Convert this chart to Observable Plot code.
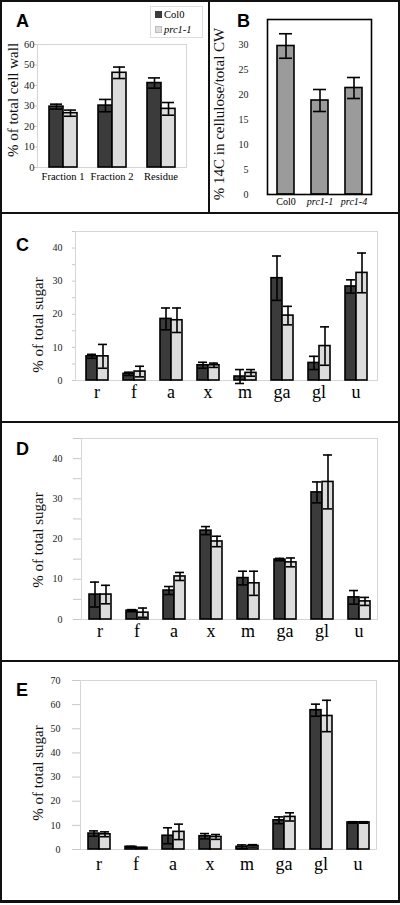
<!DOCTYPE html>
<html>
<head>
<meta charset="utf-8">
<script src="https://cdn.jsdelivr.net/npm/d3@7"></script>
<script src="https://cdn.jsdelivr.net/npm/@observablehq/plot@0.6"></script>
<style>
  html, body { margin: 0; padding: 0; background: #fff; }
  #fig { position: relative; width: 400px; height: 905px; overflow: hidden; background: #fff; font-family: "Liberation Serif", "Times New Roman", serif; }
  #fig svg text { font-family: "Liberation Serif", "Times New Roman", serif; }
  .layer { position: absolute; }
  .layer svg { display: block; }
  .line { position: absolute; background: #111; }
  .letter { position: absolute; font-family: "Liberation Sans", Arial, sans-serif; font-weight: bold; font-size: 18px; line-height: 18px; color: #000; }
  .ytitle { position: absolute; white-space: nowrap; font-size: 15px; line-height: 15px; color: #111; transform: translate(-50%, -50%) rotate(-90deg); }
  .legend { position: absolute; left: 150px; top: 6px; width: 51px; height: 30px; border: 1px solid #ddd; background: #fff; font-size: 10.5px; line-height: 15px; }
  .legend div { position: relative; padding-left: 13px; white-space: nowrap; }
  .legend span.sw { position: absolute; left: 4px; top: 4px; width: 7px; height: 7px; }
</style>
</head>
<body>
<div id="fig"></div>
<script>
// ---------- data ----------
const genotypes = ["Col0", "prc1-1"];

// Panel A
const fractions = ["Fraction 1", "Fraction 2", "Residue"];
const aCol0 = [29.7, 30.2, 41.2];
const aCol0Err = [1.2, 3.0, 2.5];
const aPrc = [26.5, 46.2, 28.6];
const aPrcErr = [1.5, 2.8, 3.1];
const aTicks = [0, 10, 20, 30, 40, 50, 60];

// Panel B
const bLines = ["Col0", "prc1-1", "prc1-4"];
const bValues = [29.7, 18.8, 21.3];
const bErr = [2.45, 2.2, 2.1];
const bTicks = [0, 5, 10, 15, 20, 25, 30];

// Panels C, D, E
const sugars = ["r", "f", "a", "x", "m", "ga", "gl", "u"];

const cCol0 = [7.3, 2.0, 18.6, 4.6, 1.2, 30.9, 5.3, 28.4];
const cCol0Err = [0.6, 0.5, 3.3, 0.9, 2.1, 6.7, 2.0, 2.0];
const cPrc = [7.3, 2.7, 18.2, 4.6, 2.3, 19.6, 10.4, 32.5];
const cPrcErr = [3.6, 1.6, 3.7, 0.65, 1.0, 2.8, 5.8, 6.0];

const dCol0 = [6.2, 2.2, 7.2, 22.1, 10.3, 14.9, 31.6, 5.5];
const dCol0Err = [3.1, 0.25, 1.0, 1.0, 1.7, 0.3, 2.6, 1.7];
const dPrc = [6.2, 1.7, 10.7, 19.4, 9.0, 14.2, 34.2, 4.5];
const dPrcErr = [2.3, 1.15, 1.0, 1.3, 3.0, 1.1, 6.7, 1.0];

const eCol0 = [6.6, 1.1, 5.7, 5.5, 1.1, 12.1, 57.7, 11.2];
const eCol0Err = [1.1, 0.2, 3.3, 1.1, 0.8, 1.4, 2.5, 0.3];
const ePrc = [6.3, 0.7, 7.3, 5.2, 1.5, 13.5, 55.3, 11.2];
const ePrcErr = [1.0, 0.1, 3.2, 1.0, 0.5, 1.7, 6.5, 0.3];

const cdMajor = [0, 10, 20, 30, 40];
const cdMinor = [0, 5, 10, 15, 20, 25, 30, 35, 40, 45];
const eMajor = [0, 10, 20, 30, 40, 50, 60, 70];

const colors = ["#3b3b3b", "#dcdcdc"];
const bColor = "#9b9b9b";

// ---------- helpers ----------
const fig = document.getElementById("fig");
function addLayer(node, left, top) {
  const d = document.createElement("div");
  d.className = "layer";
  d.style.left = left + "px";
  d.style.top = top + "px";
  d.appendChild(node);
  fig.appendChild(d);
}
function addDiv(cls, css, html) {
  const d = document.createElement("div");
  d.className = cls;
  Object.assign(d.style, css);
  if (html != null) d.innerHTML = html;
  fig.appendChild(d);
  return d;
}
function rowsOf(cats, col, colErr, prc, prcErr) {
  const rows = [];
  cats.forEach((c, i) => {
    rows.push({cat: c, g: genotypes[0], v: col[i], e: colErr[i]});
    rows.push({cat: c, g: genotypes[1], v: prc[i], e: prcErr[i]});
  });
  return rows;
}
const baseStyle = {fontFamily: "Liberation Serif, serif", background: "transparent", overflow: "visible", color: "#222"};
const SW = 1.6;

// grouped bar panel = base layer (frame + y axis) + faceted bar layer
function groupedPanel(o) {
  const dims = {width: o.width, height: o.height, marginLeft: o.ml, marginRight: o.mr, marginTop: o.mt, marginBottom: o.mb};
  const base = Plot.plot({
    ...dims,
    style: baseStyle,
    x: {axis: null},
    y: {domain: o.ydomain, axis: null},
    marks: [
      Plot.frame({stroke: "#d6d6d6", strokeWidth: 1}),
      Plot.axisY({ticks: o.minor, tickSize: o.tickSize, stroke: "#c8c8c8", fill: "none", label: null}),
      Plot.axisY({ticks: o.major, tickSize: 0, tickPadding: o.tickPadding, fill: "#222", fontSize: o.yFont, label: null, tickFormat: d => d})
    ]
  });
  const rows = rowsOf(o.cats, o.col, o.colErr, o.prc, o.prcErr);
  const bars = Plot.plot({
    ...dims,
    style: baseStyle,
    fx: {domain: o.cats, paddingInner: o.pi, paddingOuter: o.pi / 2, label: null},
    x: {domain: genotypes, padding: 0, axis: null},
    y: {domain: o.ydomain, axis: null},
    color: {domain: genotypes, range: colors},
    marks: [
      Plot.axisFx({anchor: "bottom", tickSize: 0, tickPadding: o.xPad, fontSize: o.xFont, fill: "#000", label: null}),
      Plot.barY(rows, {fx: "cat", x: "g", y: "v", fill: "g", stroke: "#000", strokeWidth: SW}),
      Plot.ruleX(rows, {fx: "cat", x: "g", y1: d => d.v - d.e, y2: d => d.v + d.e, stroke: "#000", strokeWidth: SW}),
      Plot.tickY(rows, {fx: "cat", x: "g", y: d => d.v + d.e, stroke: "#000", strokeWidth: SW, insetLeft: 1, insetRight: 1}),
      Plot.tickY(rows, {fx: "cat", x: "g", y: d => d.v - d.e, stroke: "#000", strokeWidth: SW, insetLeft: 1, insetRight: 1})
    ]
  });
  addLayer(base, o.left, o.top);
  addLayer(bars, o.left, o.top);
}

// ---------- panel A ----------
groupedPanel({
  left: 0, top: 0, width: 208, height: 212, ml: 37, mr: 22, mt: 44, mb: 45,
  ydomain: [0, 60], major: aTicks, minor: aTicks, tickSize: 3, tickPadding: 3, yFont: 10.5,
  cats: fractions, col: aCol0, colErr: aCol0Err, prc: aPrc, prcErr: aPrcErr,
  pi: 0.4, xPad: 5, xFont: 10.5
});

// ---------- panel B ----------
const bRows = bLines.map((l, i) => ({line: l, v: bValues[i], e: bErr[i]}));
const bPlot = Plot.plot({
  width: 191, height: 212, marginLeft: 58, marginRight: 29, marginTop: 19, marginBottom: 18,
  style: baseStyle,
  x: {domain: bLines, paddingInner: 0.5, paddingOuter: 0.25, label: null},
  y: {domain: [0, 35], axis: null},
  marks: [
    Plot.axisY({ticks: bTicks, tickSize: 0, tickPadding: 19, fill: "#222", fontSize: 10, label: null}),
    Plot.axisX({tickSize: 0, tickPadding: 3, fill: "#000", fontSize: 10, label: null}),
    Plot.barY(bRows, {x: "line", y: "v", fill: bColor, stroke: "#000", strokeWidth: SW}),
    Plot.ruleX(bRows, {x: "line", y1: d => d.v - d.e, y2: d => d.v + d.e, stroke: "#000", strokeWidth: SW}),
    Plot.tickY(bRows, {x: "line", y: d => d.v + d.e, stroke: "#000", strokeWidth: SW, insetLeft: 2, insetRight: 2}),
    Plot.tickY(bRows, {x: "line", y: d => d.v - d.e, stroke: "#000", strokeWidth: SW, insetLeft: 2, insetRight: 2}),
    Plot.frame({stroke: "#000", strokeWidth: 1.6})
  ]
});
d3.select(bPlot).selectAll("text").filter(function () { return /^prc/.test(this.textContent); }).style("font-style", "italic");
addLayer(bPlot, 209, 0);

// ---------- panels C, D, E ----------
groupedPanel({
  left: 0, top: 213, width: 400, height: 209, ml: 75, mr: 23, mt: 18, mb: 42,
  ydomain: [0, 45], major: cdMajor, minor: cdMinor, tickSize: 3, tickPadding: 13, yFont: 10,
  cats: sugars, col: cCol0, colErr: cCol0Err, prc: cPrc, prcErr: cPrcErr,
  pi: 0.38, xPad: 5, xFont: 18
});
groupedPanel({
  left: 0, top: 422, width: 400, height: 239, ml: 81, mr: 23, mt: 16, mb: 42,
  ydomain: [0, 45], major: cdMajor, minor: cdMinor, tickSize: 8, tickPadding: 19, yFont: 10,
  cats: sugars, col: dCol0, colErr: dCol0Err, prc: dPrc, prcErr: dPrcErr,
  pi: 0.38, xPad: 5, xFont: 18
});
groupedPanel({
  left: 0, top: 661, width: 400, height: 241, ml: 80, mr: 24, mt: 19, mb: 53,
  ydomain: [0, 70], major: eMajor, minor: eMajor, tickSize: 8, tickPadding: 20, yFont: 10,
  cats: sugars, col: eCol0, colErr: eCol0Err, prc: ePrc, prcErr: ePrcErr,
  pi: 0.38, xPad: 8, xFont: 18
});

// ---------- titles, letters, legend ----------
addDiv("ytitle", {left: "13px", top: "100px"}, "% of total cell wall");
addDiv("ytitle", {left: "219px", top: "114px"}, "% 14C in cellulose/total CW");
addDiv("ytitle", {left: "38px", top: "325px"}, "% of total sugar");
addDiv("ytitle", {left: "38px", top: "540px"}, "% of total sugar");
addDiv("ytitle", {left: "38px", top: "773px"}, "% of total sugar");

addDiv("letter", {left: "16px", top: "12px"}, "A");
addDiv("letter", {left: "237px", top: "12px"}, "B");
addDiv("letter", {left: "16px", top: "236px"}, "C");
addDiv("letter", {left: "16px", top: "440px"}, "D");
addDiv("letter", {left: "16px", top: "681px"}, "E");

const legend = addDiv("legend", {});
genotypes.forEach((g, i) => {
  const row = document.createElement("div");
  row.innerHTML = `<span class="sw" style="background:${colors[i]};${i ? 'border:1px solid #bbb;width:5px;height:5px;' : ''}"></span>` + (i ? `<i>${g}</i>` : g);
  legend.appendChild(row);
});

// ---------- panel borders ----------
addDiv("line", {left: "0px", top: "0px", width: "400px", height: "2px"});
addDiv("line", {left: "0px", top: "0px", width: "2px", height: "903px"});
addDiv("line", {left: "398px", top: "0px", width: "2px", height: "903px"});
addDiv("line", {left: "208px", top: "0px", width: "2px", height: "213px"});
addDiv("line", {left: "0px", top: "212px", width: "400px", height: "2px"});
addDiv("line", {left: "0px", top: "421px", width: "400px", height: "2px"});
addDiv("line", {left: "0px", top: "660px", width: "400px", height: "2px"});
addDiv("line", {left: "0px", top: "900px", width: "400px", height: "3px"});
</script>
</body>
</html>
